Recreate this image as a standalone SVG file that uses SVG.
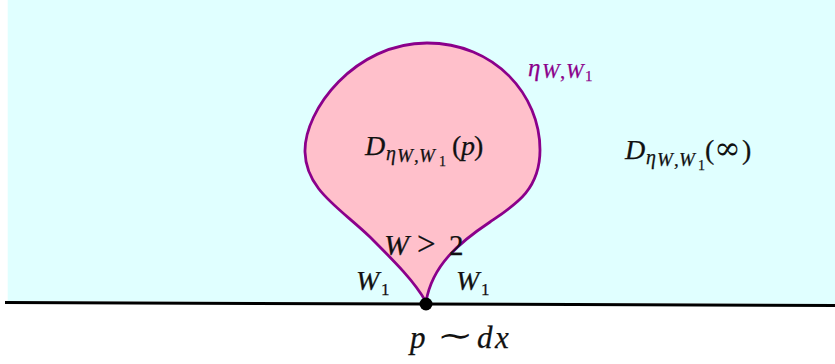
<svg xmlns="http://www.w3.org/2000/svg" width="835" height="364" viewBox="0 0 835 364">
<style>
.m{font-family:"Liberation Serif","Times New Roman",serif;font-style:italic;fill:#111;stroke:#111;stroke-width:0.25}
.u{font-family:"Liberation Serif","Times New Roman",serif;font-style:normal;fill:#111;stroke:#111;stroke-width:0.25}
.pm{fill:#8b008b;stroke:#8b008b}
</style>
<rect x="0" y="0" width="835" height="364" fill="#ffffff"/>
<g id="region-infinity">
<polygon points="7.7,0 835,0 835,304 7.7,301" fill="#e0ffff"/>
</g>
<g id="boundary-line">
<line x1="5" y1="302.5" x2="835" y2="305.5" stroke="#000" stroke-width="3"/>
</g>
<g id="region-p">
<path d="M426,302 C415,282 395,262 370,237 C340,208 306,190 305,152 C304,110 355,43 427,43 C495,43 540,95 540,150 C540,190 515,205 490,222 C460,242 432,265 426,302 Z" fill="#ffc0cb" stroke="#8b008b" stroke-width="2.8" stroke-linejoin="round"/>
</g>
<g id="point-p">
<circle cx="426" cy="304" r="6.5" fill="#000"/>
</g>
<g id="label-eta">
<text class="m pm" x="528" y="76" font-size="25">η</text>
<text class="m pm" x="542" y="78" font-size="21">W</text>
<text class="u pm" x="560" y="78" font-size="21">,</text>
<text class="m pm" x="566" y="78" font-size="21">W</text>
<text class="u pm" x="585" y="81" font-size="15">1</text>
</g>
<g id="label-Dp">
<text class="m" x="365" y="155" font-size="28">D</text>
<text class="m" x="386" y="160" font-size="20">η</text>
<text class="m" x="397" y="162" font-size="19">W</text>
<text class="u" x="414" y="162" font-size="19">,</text>
<text class="m" x="419" y="162" font-size="19">W</text>
<text class="u" x="439" y="166" font-size="14">1</text>
<text class="u" x="452" y="155" font-size="28">(</text>
<text class="m" x="461" y="155" font-size="28">p</text>
<text class="u" x="474" y="155" font-size="28">)</text>
</g>
<g id="label-Dinf">
<text class="m" x="625" y="159" font-size="28">D</text>
<text class="m" x="646" y="164" font-size="20">η</text>
<text class="m" x="657" y="166" font-size="19">W</text>
<text class="u" x="674" y="166" font-size="19">,</text>
<text class="m" x="679" y="166" font-size="19">W</text>
<text class="u" x="698" y="170" font-size="14">1</text>
<text class="u" x="705" y="159" font-size="28">(</text>
<text x="714" y="159" font-size="32" style="font-family:'DejaVu Serif',serif;fill:#111">∞</text>
<text class="u" x="742" y="159" font-size="28">)</text>
</g>
<g id="label-W2">
<text class="m" x="384" y="255" font-size="30">W</text>
<text class="u" x="417" y="255" font-size="33">&gt;</text>
<text class="u" x="449" y="255" font-size="29">2</text>
</g>
<g id="label-W1-left">
<text class="m" x="356" y="290" font-size="28">W</text>
<text class="u" x="381" y="295" font-size="17">1</text>
</g>
<g id="label-W1-right">
<text class="m" x="456" y="290" font-size="28">W</text>
<text class="u" x="481" y="295" font-size="17">1</text>
</g>
<g id="label-p">
<text class="m" x="410" y="348" font-size="31">p</text>
<text transform="translate(437,346) scale(1.4,1)" x="0" y="0" font-size="31" style="font-family:'DejaVu Serif',serif;fill:#111">∼</text>
<text class="m" x="477" y="348" font-size="31">d</text>
<text class="m" x="495" y="348" font-size="31">x</text>
</g>
</svg>
